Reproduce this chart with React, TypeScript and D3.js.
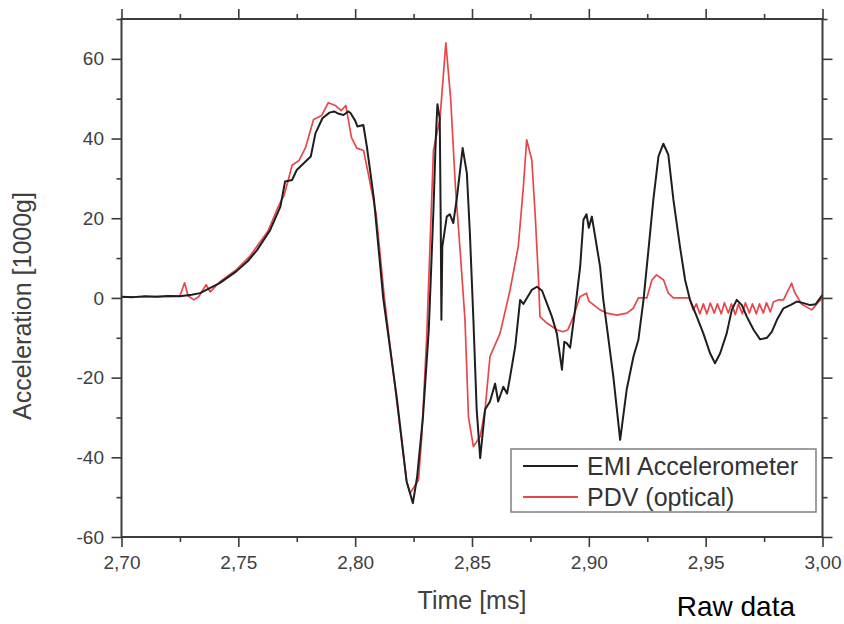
import React, { useEffect, useRef } from "react";
import * as d3 from "d3";

// ---------- Data ----------
const emiTime = [
  2.700, 2.705, 2.710, 2.715, 2.720, 2.725, 2.730, 2.7336, 2.738, 2.742, 2.749, 2.754, 2.758, 2.7636,
  2.768, 2.770, 2.773, 2.775, 2.778, 2.781, 2.783, 2.786, 2.789, 2.791, 2.793, 2.795, 2.797, 2.798,
  2.800, 2.801, 2.8035, 2.805, 2.808, 2.812, 2.8178, 2.822, 2.8247, 2.8265, 2.829, 2.8315, 2.8335,
  2.8345, 2.8352, 2.8362, 2.8366, 2.8369, 2.8373, 2.8392, 2.8405, 2.842, 2.8435, 2.846, 2.8478,
  2.8491, 2.8506, 2.852, 2.8535, 2.8556, 2.8577, 2.8599, 2.8612, 2.8634, 2.865, 2.8663, 2.8685,
  2.8706, 2.872, 2.8735, 2.8756, 2.8778, 2.880, 2.882, 2.8842, 2.8863, 2.8885, 2.8895, 2.8906,
  2.892, 2.8941, 2.8963, 2.8977, 2.899, 2.900, 2.9013, 2.9034, 2.9048, 2.9062, 2.9077, 2.9105,
  2.9134, 2.9162, 2.9191, 2.9212, 2.9234, 2.9255, 2.9276, 2.9298, 2.9319, 2.934, 2.9362, 2.939,
  2.9412, 2.9433, 2.9462, 2.949, 2.9519, 2.954, 2.9562, 2.959, 2.9612, 2.9633, 2.9655, 2.9676,
  2.9705, 2.9733, 2.9762, 2.9783, 2.9805, 2.9833, 2.9862, 2.989, 2.9919, 2.9947, 2.997, 3.000,
];
const emiAccel = [
  0.3, 0.2, 0.4, 0.3, 0.5, 0.4, 0.8, 1.2, 2.5, 3.7, 6.6, 9.2, 12, 17,
  22.9, 29.2, 29.6, 32.1, 33.8, 35.5, 41.3, 45.1, 46.5, 46.8, 46.2, 45.9, 46.8, 46.4,
  44.5, 43, 43.4, 38, 25, 0, -25, -46, -51.5, -45, -30, -8, 22,
  40, 48.6, 45, 20, -5.5, 12.9, 20.4, 21, 18.8, 25, 37.6, 31.3,
  16.2, -5.5, -28, -40.2, -28, -26, -21.5, -26, -22.3, -24, -19.8, -12.2,
  -0.5, -1.5, 0, 2, 2.8, 1.8, -1.3, -4.7, -8.9, -18, -11, -11.4,
  -12.5, -3, 7.9, 19.6, 21, 17.6, 20.4, 12.9, 7.9, -0.5, -7.2, -19.8,
  -35.6, -23, -14.7, -10.5, -0.5, 12, 24.6, 35.5, 38.7, 36, 24.6, 12.9,
  4.5, -0.5, -4.7, -8.9, -13.9, -16.4, -13.9, -8.9, -3, -0.5, -1.8, -4.7,
  -8, -10.4, -10, -8.5, -5.5, -2.6, -1.8, -0.9, -1.3, -1.8, -1.6, 0.8,
];

const pdvTime = [
  2.700, 2.710, 2.720, 2.725, 2.727, 2.7285, 2.731, 2.733, 2.7362, 2.738, 2.742, 2.749, 2.755,
  2.7627, 2.767, 2.7696, 2.771, 2.773, 2.776, 2.7788, 2.7822, 2.7857, 2.7885, 2.7915, 2.794,
  2.796, 2.7984, 2.8007, 2.8036, 2.806, 2.809, 2.8125, 2.8178, 2.822, 2.8235, 2.8271, 2.8285,
  2.8306, 2.8335, 2.8363, 2.8388, 2.8409, 2.8429, 2.845, 2.847, 2.8485, 2.8506, 2.8535, 2.8556,
  2.8577, 2.862, 2.8663, 2.8698, 2.872, 2.8734, 2.8756, 2.877, 2.8784, 2.8791, 2.882, 2.8863,
  2.889, 2.891, 2.8934, 2.8962, 2.899, 2.900, 2.9048, 2.9077, 2.912, 2.9163, 2.919, 2.9212,
  2.9248, 2.927, 2.929, 2.932, 2.934, 2.9362, 2.9405, 2.943, 2.9447, 2.946, 2.9475, 2.949,
  2.9505, 2.952, 2.9537, 2.955, 2.9567, 2.958, 2.9597, 2.961, 2.9627, 2.964, 2.9657, 2.967,
  2.9687, 2.970, 2.9717, 2.973, 2.9747, 2.976, 2.9777, 2.979, 2.981, 2.9833, 2.9868, 2.988,
  2.991, 2.9954, 2.998, 3.000,
];
const pdvAccel = [
  0.2, 0.3, 0.4, 0.5, 3.8, 0.5, -0.5, 0.3, 3.3, 1.5, 4, 7, 10.5,
  16.8, 22.8, 25.8, 28.8, 33.3, 34.5, 37.8, 44.8, 45.8, 49, 48.3, 47,
  48.3, 40.3, 37.6, 37, 30, 21, 0, -26, -46, -49, -45.7, -34.8,
  -10, 37, 45, 64, 49.7, 27.9, 11.2, -5.5, -30, -37.3, -34.8, -28,
  -14.7, -8.9, 2, 12.9, 28, 39.7, 34.6, 21.3, 5.3, -4.7, -6.3, -8,
  -8.5, -8, -4.7, 0.3, 1.2, -0.8, -3, -3.8, -4.3, -3.8, -2.6, 0,
  0, 4.5, 5.8, 4.5, 1.2, 0, 0, 0, -3, -1.5, -4, -1.5,
  -4, -1.3, -3.8, -1.5, -4, -1.2, -3.8, -1.5, -4.2, -1.5, -4, -1.2,
  -3.8, -1.5, -4, -1.5, -3.8, -1.2, -3.5, -1, -0.5, -0.5, 3.7, 1.5,
  -1.5, -3, -1.2, 0,
];

const xMajorTicks = [2.70, 2.75, 2.80, 2.85, 2.90, 2.95, 3.00];
const xMinorTicks = [2.725, 2.775, 2.825, 2.875, 2.925, 2.975];
const yMajorTicks = [-60, -40, -20, 0, 20, 40, 60];
const yMinorTicks = [-50, -30, -10, 10, 30, 50, 70];

const seriesNames = ["EMI Accelerometer", "PDV (optical)"];
const seriesColors = ["#1e1e1e", "#e8474a"];

const xTitle = "Time [ms]";
const yTitle = "Acceleration [1000g]";
const note = "Raw data";

// ---------- Layout ----------
const W = 844;
const H = 624;
const X0 = 121.5;
const X1 = 822.5;
const Y0 = 537;
const Y1 = 19;
const FONT = "'Liberation Sans', Arial, Helvetica, sans-serif";
const AXIS_COLOR = "#3c3c3c";
const TEXT_COLOR = "#404040";

export default function App() {
  const axRef = useRef<SVGGElement>(null);

  const x = d3.scaleLinear().domain([2.7, 3.0]).range([X0, X1]);
  const y = d3.scaleLinear().domain([-60, 70]).range([Y0, Y1]);

  const emi = emiTime.map((t, i) => [t, emiAccel[i]] as [number, number]);
  const pdv = pdvTime.map((t, i) => [t, pdvAccel[i]] as [number, number]);
  const line = d3
    .line<[number, number]>()
    .x((d) => x(d[0]))
    .y((d) => y(d[1]));

  useEffect(() => {
    const g = d3.select(axRef.current);
    g.selectAll("*").remove();
    const fmtX = (d: any) => d3.format(".2f")(d).replace(".", ",");
    const fmtY = (d: any) => String(d);

    const style = (sel: any) => {
      sel.select(".domain").remove();
      sel.selectAll("line").attr("stroke", AXIS_COLOR).attr("stroke-width", 1.6);
      sel
        .selectAll("text")
        .attr("fill", TEXT_COLOR)
        .style("font-family", FONT)
        .style("font-size", "19px");
    };

    // bottom
    g.append("g")
      .attr("transform", `translate(0,${Y0})`)
      .call(d3.axisBottom(x).tickValues(xMajorTicks).tickSize(10).tickPadding(9).tickFormat(fmtX))
      .call(style);
    g.append("g")
      .attr("transform", `translate(0,${Y0})`)
      .call(d3.axisBottom(x).tickValues(xMinorTicks).tickSize(5).tickFormat(() => ""))
      .call(style);
    // top
    g.append("g")
      .attr("transform", `translate(0,${Y1})`)
      .call(d3.axisTop(x).tickValues(xMajorTicks).tickSize(10).tickFormat(() => ""))
      .call(style);
    g.append("g")
      .attr("transform", `translate(0,${Y1})`)
      .call(d3.axisTop(x).tickValues(xMinorTicks).tickSize(5).tickFormat(() => ""))
      .call(style);
    // left
    g.append("g")
      .attr("transform", `translate(${X0},0)`)
      .call(d3.axisLeft(y).tickValues(yMajorTicks).tickSize(10).tickPadding(7.5).tickFormat(fmtY))
      .call(style);
    g.append("g")
      .attr("transform", `translate(${X0},0)`)
      .call(d3.axisLeft(y).tickValues(yMinorTicks).tickSize(5).tickFormat(() => ""))
      .call(style);
    // right
    g.append("g")
      .attr("transform", `translate(${X1},0)`)
      .call(d3.axisRight(y).tickValues(yMajorTicks).tickSize(10).tickFormat(() => ""))
      .call(style);
    g.append("g")
      .attr("transform", `translate(${X1},0)`)
      .call(d3.axisRight(y).tickValues(yMinorTicks).tickSize(5).tickFormat(() => ""))
      .call(style);
  }, []);

  return (
    <svg
      width={W}
      height={H}
      style={{ position: "absolute", left: 0, top: 0, background: "#fff" }}
      fontFamily={FONT}
    >
      <rect x={0} y={0} width={W} height={H} fill="#fff" />
      <defs>
        <clipPath id="plotclip">
          <rect x={X0} y={Y1} width={X1 - X0} height={Y0 - Y1} />
        </clipPath>
      </defs>
      <g clipPath="url(#plotclip)">
        <path d={line(pdv) || ""} fill="none" stroke={seriesColors[1]} strokeWidth={1.7} strokeLinejoin="round" />
        <path d={line(emi) || ""} fill="none" stroke={seriesColors[0]} strokeWidth={2} strokeLinejoin="round" />
      </g>

      <rect x={X0} y={Y1} width={X1 - X0} height={Y0 - Y1} fill="none" stroke={AXIS_COLOR} strokeWidth={2} />
      <g ref={axRef} />

      {/* legend */}
      <rect x={511} y={449} width={305} height={63} fill="#fff" stroke="#808080" strokeWidth={1.5} />
      {seriesNames.map((name, i) => (
        <g key={name}>
          <line x1={523} x2={578} y1={466 + i * 31} y2={466 + i * 31} stroke={seriesColors[i]} strokeWidth={1.8} />
          <text x={587} y={475 + i * 31} fontSize={25} fill="#333">
            {name}
          </text>
        </g>
      ))}

      <text x={472} y={609} textAnchor="middle" fontSize={25} fill={TEXT_COLOR}>
        {xTitle}
      </text>
      <text transform="translate(31,306) rotate(-90)" textAnchor="middle" fontSize={25} fill={TEXT_COLOR}>
        {yTitle}
      </text>
      <text x={795} y={616} textAnchor="end" fontSize={28} fill="#000">
        {note}
      </text>
    </svg>
  );
}
